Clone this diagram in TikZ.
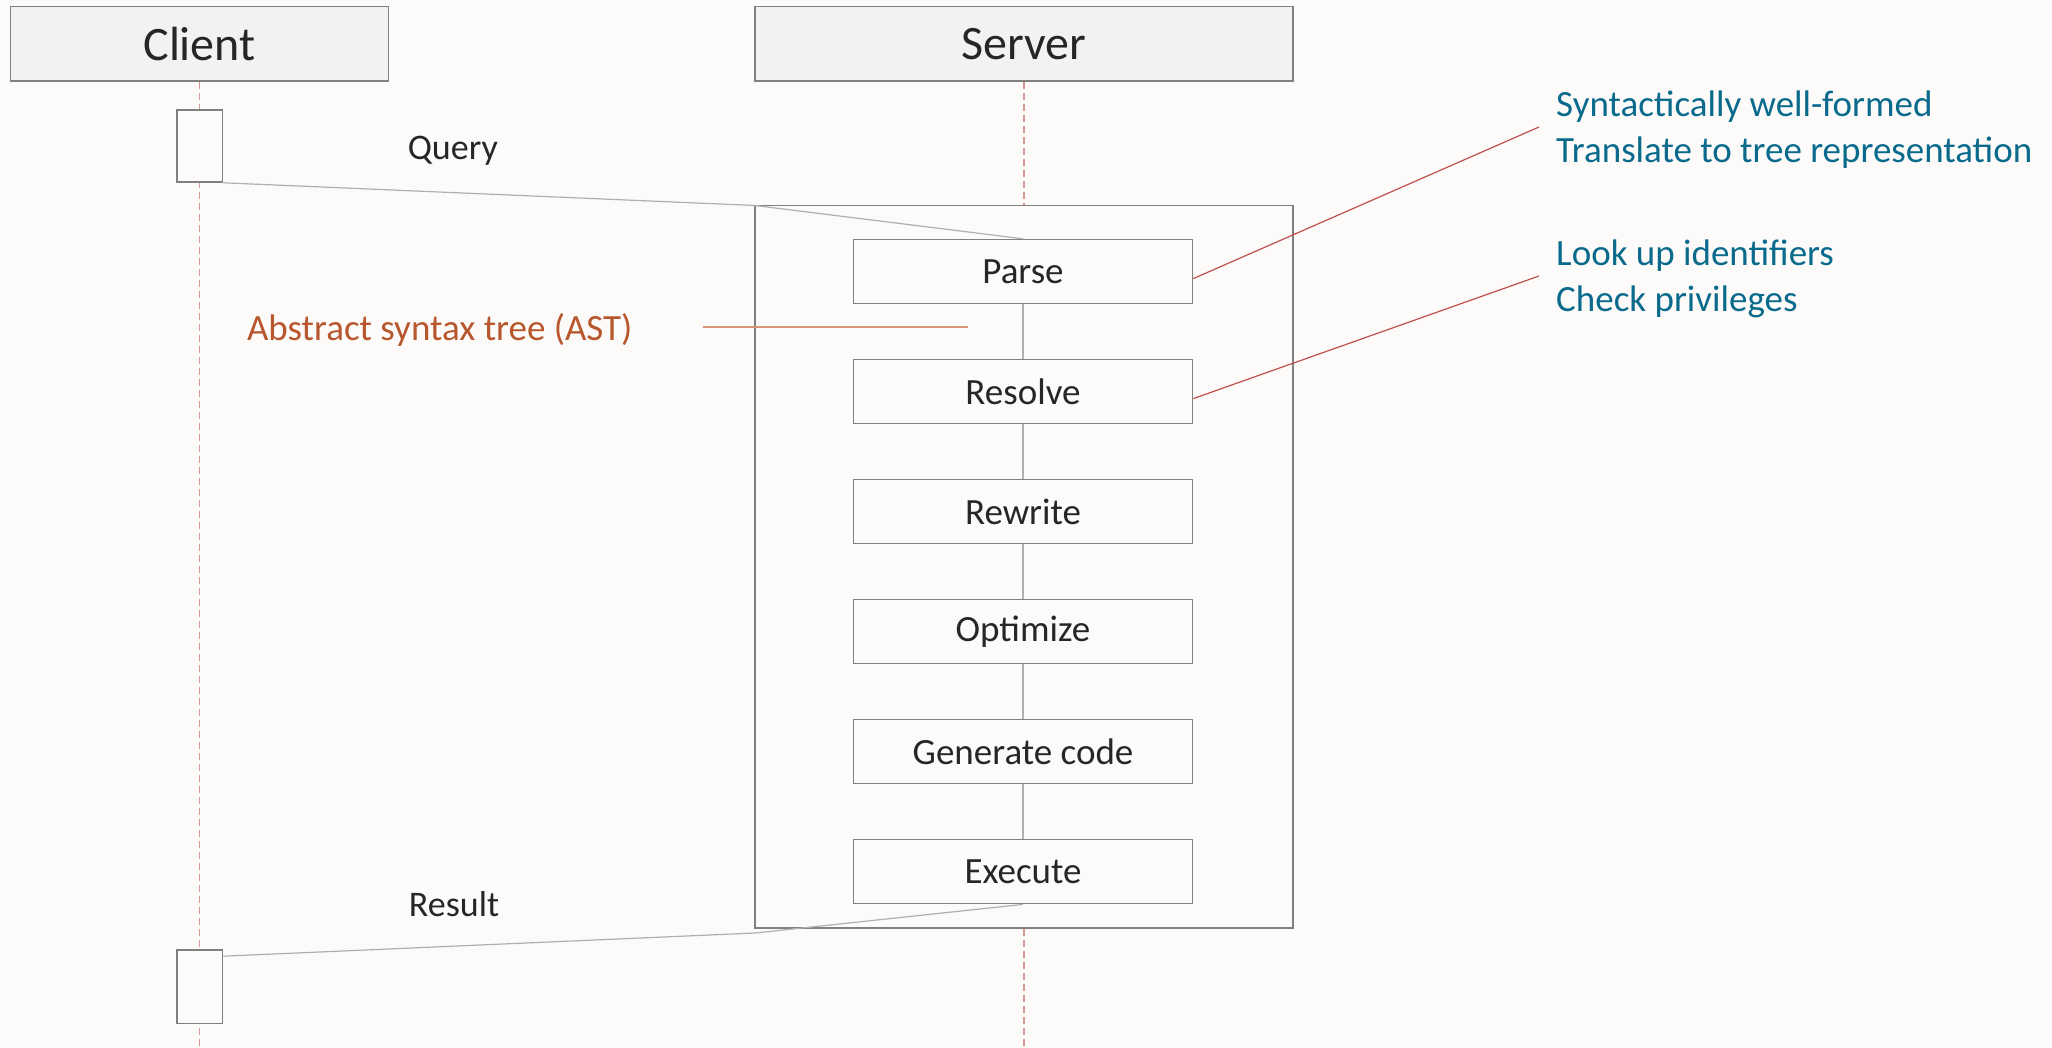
\documentclass[tikz,border=0pt]{standalone}
\usepackage{fontspec}
\setmainfont{Carlito}
\usetikzlibrary{positioning}
\definecolor{pagebg}{RGB}{252,251,250}
\definecolor{headfill}{RGB}{242,242,242}
\definecolor{edgegray}{RGB}{128,128,128}
\definecolor{inkgray}{RGB}{38,38,38}
\definecolor{notecyan}{RGB}{10,106,140}
\definecolor{astorange}{RGB}{184,87,45}
\definecolor{astline}{RGB}{212,150,118}
\definecolor{leaderred}{RGB}{192,80,77}
\definecolor{lifered}{RGB}{214,150,146}
\definecolor{linkgray}{RGB}{175,175,175}

\begin{document}
\begin{tikzpicture}[x=1pt, y=-1pt,
  header/.style={draw=edgegray, fill=headfill, line width=1.6pt, minimum height=74.6pt, inner sep=0pt, text=inkgray, font=\fontsize{48}{52}\selectfont},
  lifeline/.style={draw=lifered, line width=1.3pt, dash pattern=on 7pt off 4pt},
  activation/.style={draw=edgegray, fill=pagebg, line width=1.6pt, minimum width=45.8pt, inner sep=0pt},
  stage/.style={draw=edgegray, fill=pagebg, line width=1.6pt, minimum width=339pt, minimum height=64pt, inner sep=0pt, text=inkgray, font=\fontsize{37}{40}\selectfont},
  link/.style={draw=linkgray, line width=1.2pt},
  msg/.style={draw=linkgray, line width=1.2pt},
  label/.style={text=inkgray, inner sep=0pt, font=\fontsize{36}{40}\selectfont},
  note/.style={text=notecyan, align=left, inner sep=0pt, font=\fontsize{37}{46}\selectfont},
  leader/.style={draw=leaderred, line width=1.2pt},
  node distance=54.4pt]

  \fill[pagebg] (0,0) rectangle (2052,1048);
  \useasboundingbox (0,0) rectangle (2052,1048);

  \node[header, minimum width=378pt] (client) at (199.6,43.8) {Client};
  \node[header, minimum width=538pt] (server) at (1024,43.8) {Server};
  \coordinate (clientFoot) at (199.6,1048);
  \coordinate (serverFoot) at (1024,1048);
  \draw[lifeline] (client.south) -- (clientFoot);
  \draw[lifeline] (server.south) -- (serverFoot);

  \node[activation, minimum height=72pt] (callAct) at (199.6,146) {};
  \node[activation, minimum height=73.4pt] (replyAct) at (199.6,986.7) {};

  \coordinate (frameNW) at (755.1,205.5);
  \coordinate (frameSE) at (1293,928);
  \coordinate (resultBend) at (755.1,933);
  \draw[draw=edgegray, fill=pagebg, line width=1.6pt] (frameNW) rectangle (frameSE);

  \node[stage] (parse) at (1023,271.6) {Parse};
  \node[stage, below=of parse] (resolve) {Resolve};
  \node[stage, below=of resolve] (rewrite) {Rewrite};
  \node[stage, below=of rewrite] (optimize) {Optimize};
  \node[stage, below=of optimize] (generate) {Generate code};
  \node[stage, below=of generate] (execute) {Execute};

  \foreach \a/\b in {parse/resolve, resolve/rewrite, rewrite/optimize, optimize/generate, generate/execute} {
    \draw[link] (\a) -- (\b);
  }

  \node[label] (query) at (452.8,150.6) {Query};
  \node[label] (result) at (454,904.3) {Result};
  \draw[msg] (callAct.south east) -- (frameNW) -- (parse.north);
  \draw[msg] (execute.south) -- (resultBend) -- ([yshift=-7pt]replyAct.north east);

  \node[label, text=astorange, font=\fontsize{37}{40}\selectfont] (ast) at (439.7,329.8) {Abstract syntax tree (AST)};
  \coordinate (astTip) at (968.4,327.2);
  \draw[draw=astline, line width=1.8pt] ([xshift=70pt]ast.east |- astTip) -- (astTip);

  \node[note, anchor=north west] (parseNote) at (1556,90.5) {Syntactically well-formed\\Translate to tree representation};
  \node[note, anchor=north west] (resolveNote) at (1556,239.5) {Look up identifiers\\Check privileges};
  \coordinate (parseLead) at (1539,127);
  \coordinate (resolveLead) at (1539,276);
  \draw[leader] ([yshift=-7pt]parse.east) -- (parseLead);
  \draw[leader] ([yshift=-7pt]resolve.east) -- (resolveLead);

\end{tikzpicture}
\end{document}
